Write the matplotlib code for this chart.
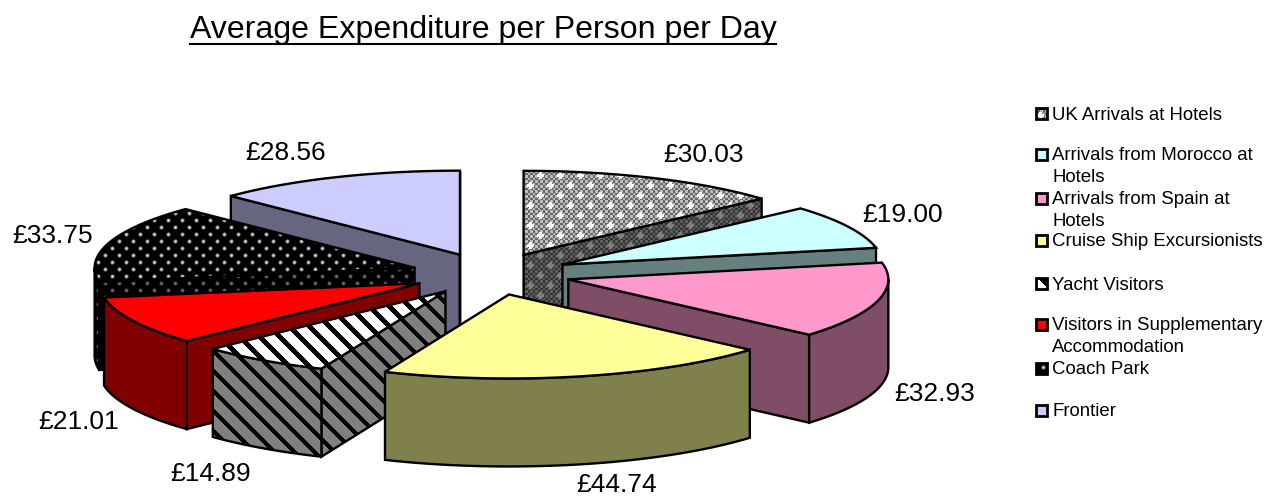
"""Exploded 3D-look pie: average expenditure per person per day -> PNG."""

import matplotlib

matplotlib.use("Agg")
import matplotlib.pyplot as plt
import numpy as np
from matplotlib.patches import Polygon

plt.rcParams["font.family"] = ["Liberation Sans", "DejaVu Sans"]

W, H = 1265, 497

TITLE = "Average Expenditure per Person per Day"
categories = [
    "UK Arrivals at Hotels",
    "Arrivals from Morocco at\nHotels",
    "Arrivals from Spain at\nHotels",
    "Cruise Ship Excursionists",
    "Yacht Visitors",
    "Visitors in Supplementary\nAccommodation",
    "Coach Park",
    "Frontier",
]
values = [30.03, 19.00, 32.93, 44.74, 14.89, 21.01, 33.75, 28.56]
colors = ["grid", "#CCFFFF", "#FF99CC", "#FFFF99", "stripes", "#FF0000", "dots", "#CCCCFF"]

# layout, in pixels
label_xy = [(703, 155), (903, 215), (935, 394), (617, 485),
            (211, 474), (79, 422), (53, 236), (286, 153)]
legend_y = [114, 155, 199, 241, 284, 325, 369, 411]
CX, CY = 491, 274
A, B = 320, 84
EXPL = 0.25
DEPTH = 88
YY, XX = np.mgrid[0:H, 0:W]


def texture(kind, dark=False):
    if kind == "grid":
        v = np.where((XX * 2 // 5 + YY * 2 // 5) % 2 == 0, 0.74, 0.40)
        row = YY // 10
        dx = (XX + 10 * (row % 2)) % 20
        dy = YY % 10
        v = np.where(((np.abs(dx - 10) <= 3) & (np.abs(dy - 5) <= 1))
                     | ((np.abs(dx - 10) <= 1) & (np.abs(dy - 5) <= 3)), 1.0, v)
        if dark:
            v = v * 0.5
    elif kind == "dots":
        row = YY // 7
        dx = (XX + 7 * (row % 2)) % 14 - 7
        dy = YY % 7 - 3
        v = np.clip(1 - (dx**2 + dy**2) / 6.0, 0, 1) * (0.45 if dark else 0.85)
    else:
        s = (XX - YY) % 20
        v = np.where(s < (6 if dark else 7), 0.0, 0.5 if dark else 1.0)
    return v


def fill(ax, pts, color, z, dark=False, lw=1.7):
    if color in ("grid", "dots", "stripes"):
        p = Polygon(pts, closed=True, fc="none", ec="black", lw=lw, zorder=z + 0.1)
        ax.add_patch(p)
        im = ax.imshow(texture(color, dark), cmap="gray", vmin=0, vmax=1, extent=(0, W, H, 0),
                       aspect="auto", interpolation="bilinear", zorder=z)
        im.set_clip_path(p)
    else:
        c = np.array(matplotlib.colors.to_rgb(color)) * (0.5 if dark else 1.0)
        ax.add_patch(Polygon(pts, closed=True, fc=c, ec="black", lw=lw, zorder=z))


def rim(ax0, ay0, t0, t1):
    t = np.radians(np.linspace(t0, t1, 80))
    return np.column_stack([ax0 + A * np.sin(t), ay0 - B * np.cos(t)])


fig = plt.figure(figsize=(W / 100, H / 100), dpi=100)
ax = fig.add_axes([0, 0, 1, 1])

edges = np.concatenate([[0], np.cumsum(values)]) / sum(values) * 360
mids = (edges[:-1] + edges[1:]) / 2
# back slices first so the front ones overlap them
order = np.argsort(-np.cos(np.radians(mids)))

for n, i in enumerate(order):
    z = 2 + n
    t0, t1, tm = edges[i], edges[i + 1], np.radians(mids[i])
    ox = CX + EXPL * A * np.sin(tm)
    oy = CY - EXPL * B * np.cos(tm)
    apex = np.array([ox, oy])
    top = rim(ox, oy, t0, t1)
    down = np.array([0, DEPTH])

    # radial walls that face the viewer
    if np.sin(np.radians(t0)) < 0:
        e = top[0]
        fill(ax, [apex, e, e + down, apex + down], colors[i], z, dark=True)
    if np.sin(np.radians(t1)) > 0:
        e = top[-1]
        fill(ax, [apex, e, e + down, apex + down], colors[i], z, dark=True)
    # outer wall, only the part on the front half
    a0, a1 = max(t0, 90), min(t1, 270)
    if a1 > a0:
        arc = rim(ox, oy, a0, a1)
        fill(ax, np.vstack([arc, (arc + down)[::-1]]), colors[i], z + 0.2, dark=True)
    # top face
    fill(ax, np.vstack([apex, top]), colors[i], z + 0.4)

for (x, y), v in zip(label_xy, values):
    ax.text(x, y, f"£{v:.2f}", fontsize=19, ha="center", va="center", color="black", zorder=50)

# legend, Excel spaces it unevenly so it is placed by hand
for cat, col, y in zip(categories, colors, legend_y):
    fill(ax, [(1036, y - 6), (1047, y - 6), (1047, y + 5), (1036, y + 5)], col, 40, lw=2.0)
    for k, line in enumerate(cat.split("\n")):
        ax.text(1052, y + 1 + k * 22, line, fontsize=13.4, ha="left", va="center", color="black", zorder=50)

t = ax.text(483, 30, TITLE, fontsize=23.1, ha="center", va="center", color="black", zorder=50)
fig.canvas.draw()
bb = t.get_window_extent()
ax.plot([bb.x0, bb.x1], [44, 44], color="black", lw=1.5, zorder=50)

ax.set_xlim(0, W)
ax.set_ylim(H, 0)
ax.axis("off")
fig.savefig("out.png", dpi=100)
